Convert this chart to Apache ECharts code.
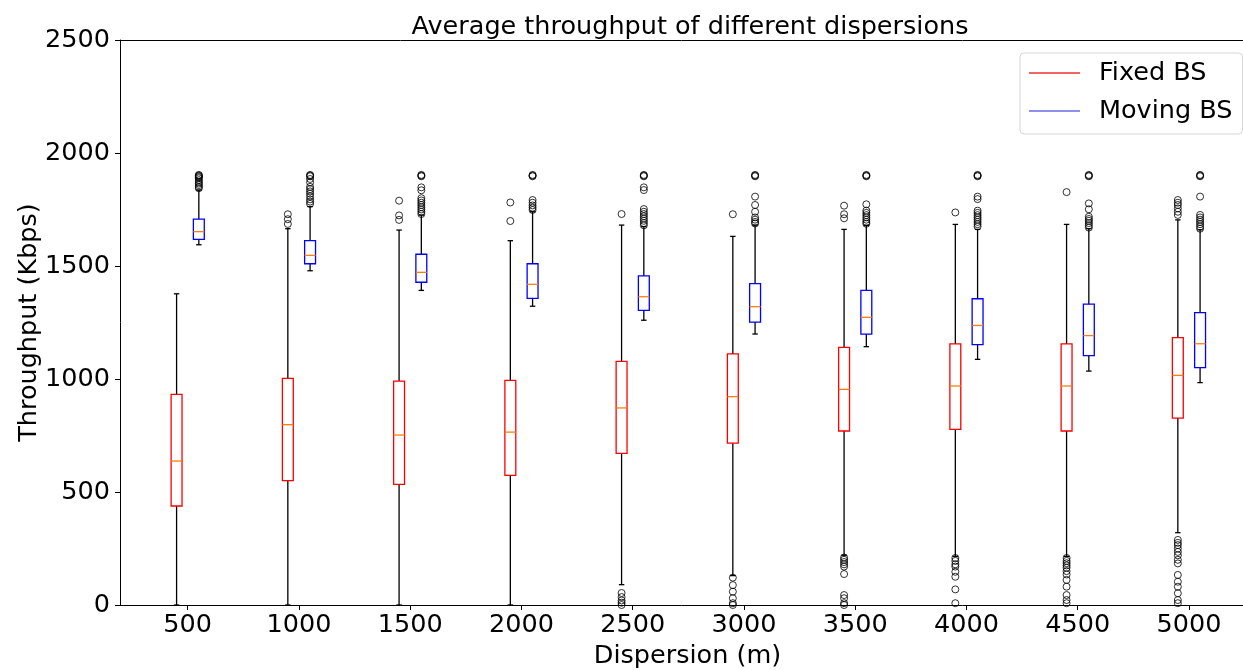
<!DOCTYPE html>
<html><head><meta charset="utf-8">
<script src="https://cdn.jsdelivr.net/npm/echarts@6/dist/echarts.min.js"></script>
<style>html,body{margin:0;padding:0;background:#fff}#c{width:1243px;height:670px}</style>
</head><body><div id="c"></div>
<script>
// ---- data ----
const categories = [500, 1000, 1500, 2000, 2500, 3000, 3500, 4000, 4500, 5000];
const tickLabels = ['500', '1000', '1500', '2000', '2500', '3000', '3500', '4000', '4500', '5000'];

const fixedMin = [0, 0, 0, 0, 90, 130, 220, 215, 215, 320];
const fixedQ1  = [438, 550, 534, 574, 671, 716, 770, 777, 770, 827];
const fixedMed = [637, 798, 752, 765, 872, 922, 954, 969, 969, 1016];
const fixedQ3  = [932, 1003, 991, 994, 1078, 1111, 1140, 1155, 1155, 1183];
const fixedMax = [1377, 1665, 1659, 1612, 1681, 1631, 1662, 1684, 1684, 1704];

const movingMin = [1594, 1479, 1392, 1322, 1260, 1199, 1143, 1087, 1035, 984];
const movingQ1  = [1618, 1510, 1428, 1357, 1304, 1252, 1199, 1152, 1103, 1050];
const movingMed = [1652, 1547, 1472, 1419, 1364, 1320, 1273, 1237, 1192, 1156];
const movingQ3  = [1707, 1612, 1552, 1510, 1456, 1422, 1392, 1355, 1331, 1294];
const movingMax = [1836, 1763, 1725, 1740, 1674, 1681, 1680, 1662, 1665, 1660];

const fixedOutliers = [
  [],
  [1729, 1707, 1686],
  [1789, 1724, 1704],
  [1781, 1699],
  [1730, 53, 35, 20, 10, 0],
  [1729, 121, 88, 59, 30, 8, 0],
  [1767, 1729, 1711, 210, 200, 190, 180, 170, 137, 44, 30, 8, 0],
  [1737, 208, 195, 180, 170, 147, 125, 69, 8],
  [1827, 208, 195, 185, 175, 165, 150, 135, 111, 81, 44, 22, 8],
  [1792, 1780, 1770, 1755, 1740, 1726, 288, 275, 265, 250, 235, 220, 200, 184, 133, 103, 81, 52, 22, 8]
];
const movingOutliers = [
  [1903, 1900, 1897, 1893, 1888, 1880, 1872, 1865, 1858, 1850, 1844],
  [1903, 1900, 1897, 1885, 1870, 1850, 1840, 1830, 1820, 1808, 1795, 1785, 1775],
  [1903, 1900, 1897, 1848, 1835, 1800, 1790, 1780, 1770, 1760, 1750, 1740, 1730],
  [1903, 1900, 1897, 1792, 1780, 1768, 1758, 1748],
  [1903, 1900, 1897, 1848, 1836, 1752, 1740, 1730, 1720, 1710, 1700, 1690, 1680],
  [1903, 1900, 1897, 1807, 1770, 1740, 1715, 1705, 1695, 1688],
  [1903, 1900, 1897, 1773, 1745, 1735, 1725, 1715, 1705, 1695, 1687],
  [1903, 1900, 1897, 1807, 1796, 1745, 1735, 1725, 1715, 1705, 1695, 1685, 1675],
  [1903, 1900, 1897, 1777, 1751, 1718, 1708, 1700, 1690, 1680, 1670],
  [1903, 1900, 1897, 1807, 1726, 1715, 1705, 1695, 1685, 1675, 1665]
];

// ---- layout constants ----
const FONT = 'DejaVu Sans';
const FS = 25.5;
const BOX_W = 49;      // box width in x data units
const OFFSET = 50;     // side offset of each box from its tick
const LW = 1.3;
const X_MIN = 195.7, X_MAX = 5242.9;

function boxRows(mn, q1, md, q3, mx, shift) {
  return categories.map((c, i) => [c + shift, mn[i], q1[i], md[i], q3[i], mx[i]]);
}
function outlierRows(list, shift) {
  const out = [];
  list.forEach((arr, i) => arr.forEach(v => out.push([categories[i] + shift, v])));
  return out;
}

function makeRender(color) {
  return function (params, api) {
    const x = api.value(0);
    const pMin = api.coord([x, api.value(1)]);
    const pQ1L = api.coord([x - BOX_W / 2, api.value(2)]);
    const pMedL = api.coord([x - BOX_W / 2, api.value(3)]);
    const pMedR = api.coord([x + BOX_W / 2, api.value(3)]);
    const pQ3R = api.coord([x + BOX_W / 2, api.value(4)]);
    const pMax = api.coord([x, api.value(5)]);
    const capL = api.coord([x - BOX_W / 4, 0])[0];
    const capR = api.coord([x + BOX_W / 4, 0])[0];
    const cx = pMin[0];
    const blk = { stroke: '#000', lineWidth: LW };
    return {
      type: 'group',
      children: [
        { type: 'line', shape: { x1: cx, y1: pMin[1], x2: cx, y2: pQ1L[1] }, style: blk },
        { type: 'line', shape: { x1: cx, y1: pQ3R[1], x2: cx, y2: pMax[1] }, style: blk },
        { type: 'line', shape: { x1: capL, y1: pMin[1], x2: capR, y2: pMin[1] }, style: blk },
        { type: 'line', shape: { x1: capL, y1: pMax[1], x2: capR, y2: pMax[1] }, style: blk },
        { type: 'rect', shape: { x: pQ1L[0], y: pQ3R[1], width: pQ3R[0] - pQ1L[0], height: pQ1L[1] - pQ3R[1] },
          style: { fill: 'none', stroke: color, lineWidth: LW } },
        { type: 'line', shape: { x1: pMedL[0], y1: pMedL[1], x2: pMedR[0], y2: pMedR[1] },
          style: { stroke: '#ff7f0e', lineWidth: LW } }
      ]
    };
  };
}

const chart = echarts.init(document.getElementById('c'), null, { renderer: 'canvas' });
const txt = { fontFamily: FONT, color: '#000' };

chart.setOption({
  animation: false,
  backgroundColor: '#fff',
  textStyle: { fontFamily: FONT },
  title: {
    text: 'Average throughput of different dispersions',
    left: 685, top: 9, textAlign: 'center',
    textStyle: { fontFamily: FONT, fontSize: FS, fontWeight: 'normal', color: '#000' }
  },
  legend: {
    left: 1020, top: 53, orient: 'vertical',
    padding: [6, 10, 9, 9],
    itemGap: 10, itemWidth: 51, itemHeight: 1.5,
    borderColor: '#d6d6d6', borderWidth: 1, borderRadius: 4,
    backgroundColor: 'rgba(255,255,255,0.8)',
    textStyle: { fontFamily: FONT, fontSize: FS, color: '#000', lineHeight: 28, padding: [0, 0, 0, 14] },
    data: [
      { name: 'Fixed BS', icon: 'rect', itemStyle: { color: '#f03030' } },
      { name: 'Moving BS', icon: 'rect', itemStyle: { color: '#6a6ae8' } }
    ]
  },
  grid: { left: 120, top: 40, right: 0, bottom: 65, show: false,
    containLabel: false, outerBoundsMode: 'none' },
  xAxis: [{
    type: 'value', min: X_MIN, max: X_MAX,
    name: 'Dispersion (m)', nameLocation: 'middle', nameGap: 38,
    nameTextStyle: { fontFamily: FONT, fontSize: FS, color: '#000', padding: [0, 0, 0, 12] },
    axisLine: { show: true, lineStyle: { color: '#000', width: 1 } },
    axisTick: { show: true, length: 5, lineStyle: { color: '#000' }, customValues: categories },
    axisLabel: { ...txt, fontSize: FS, margin: 7, customValues: categories,
      formatter: v => tickLabels[categories.indexOf(v)] ?? '' },
    splitLine: { show: false }
  }, {
    type: 'value', position: 'top', min: X_MIN, max: X_MAX,
    axisLine: { show: true, lineStyle: { color: '#000', width: 1 } },
    axisTick: { show: false }, axisLabel: { show: false }, splitLine: { show: false }
  }],
  yAxis: {
    type: 'value', min: 0, max: 2500, interval: 500,
    name: 'Throughput (Kbps)', nameLocation: 'middle', nameGap: 78, nameMoveOverlap: false,
    nameTextStyle: { fontFamily: FONT, fontSize: FS, color: '#000' },
    axisLine: { show: true, lineStyle: { color: '#000', width: 1 } },
    axisTick: { show: true, length: 5, lineStyle: { color: '#000' } },
    axisLabel: { ...txt, fontSize: FS, margin: 10, formatter: v => String(v) },
    splitLine: { show: false }
  },
  series: [
    { name: 'Fixed BS', type: 'custom', renderItem: makeRender('#ff0000'), itemStyle: { color: '#ff0000' },
      encode: { x: 0, y: [1, 2, 3, 4, 5] }, data: boxRows(fixedMin, fixedQ1, fixedMed, fixedQ3, fixedMax, -OFFSET) },
    { name: 'Moving BS', type: 'custom', renderItem: makeRender('#0000ff'), itemStyle: { color: '#0000ff' },
      encode: { x: 0, y: [1, 2, 3, 4, 5] }, data: boxRows(movingMin, movingQ1, movingMed, movingQ3, movingMax, OFFSET) },
    { name: 'fixed outliers', type: 'scatter', symbol: 'circle', symbolSize: 7,
      itemStyle: { color: 'rgba(0,0,0,0)', borderColor: '#000', borderWidth: 1 },
      data: outlierRows(fixedOutliers, -OFFSET) },
    { name: 'moving outliers', type: 'scatter', symbol: 'circle', symbolSize: 7,
      itemStyle: { color: 'rgba(0,0,0,0)', borderColor: '#000', borderWidth: 1 },
      data: outlierRows(movingOutliers, OFFSET) }
  ]
});
</script>
</body></html>
